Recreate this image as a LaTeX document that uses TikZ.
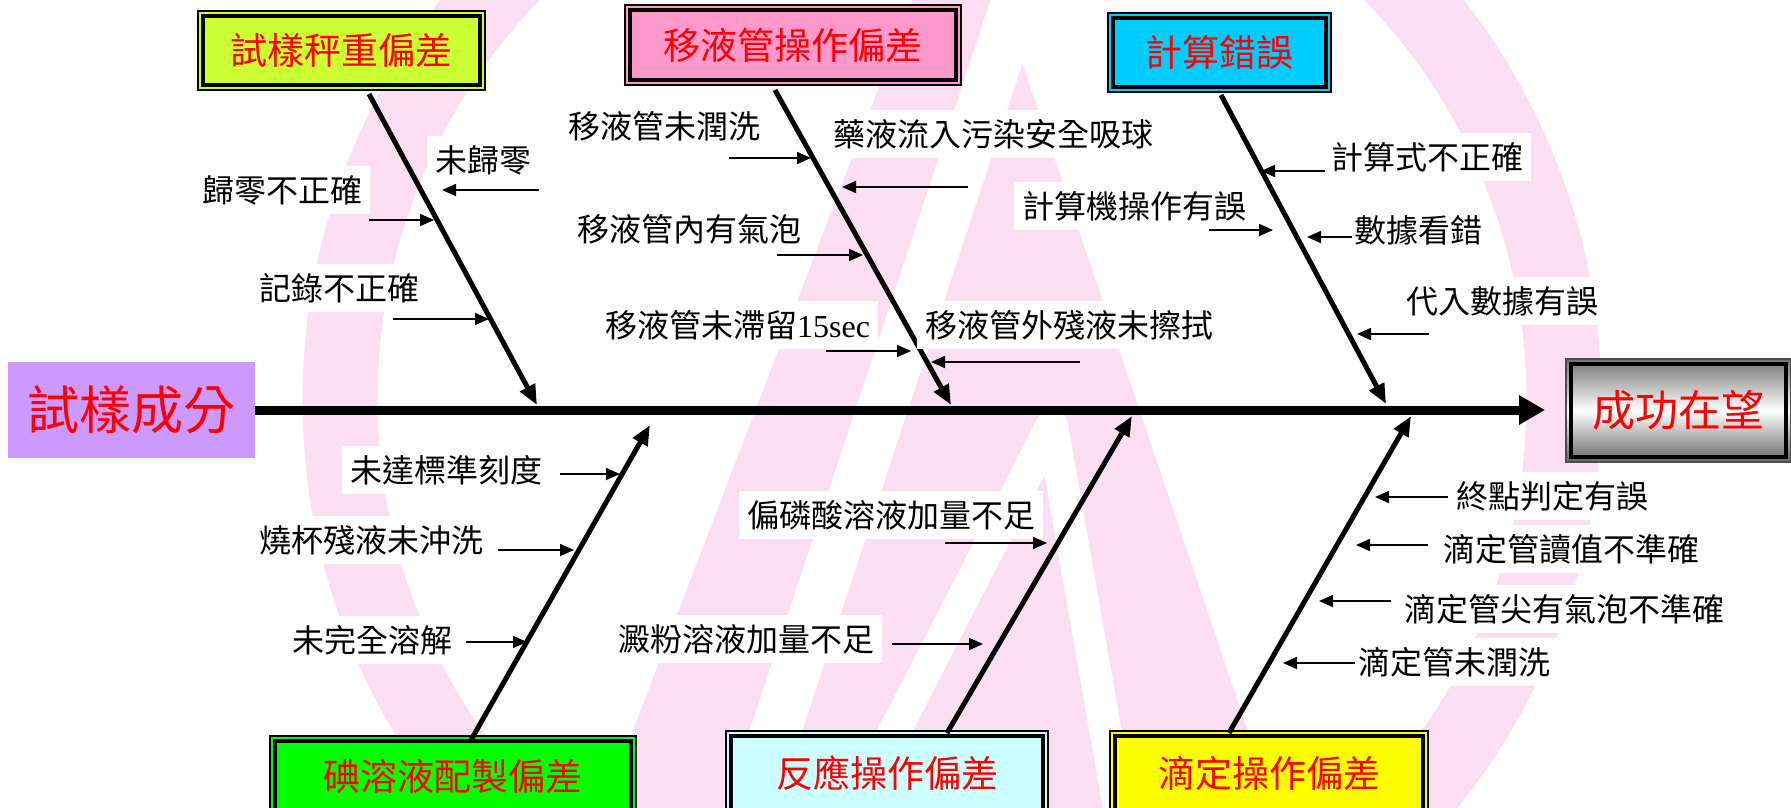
\documentclass[tikz,border=0pt]{standalone}
\usepackage{fontspec}
\setmainfont{Liberation Serif}
\newfontfamily\cjk{Noto Sans CJK TC}
\usetikzlibrary{arrows.meta}
\definecolor{wmpink}{HTML}{FCDEF2}
\definecolor{cyg}{HTML}{CCFF33}
\definecolor{cpk}{HTML}{FF99CC}
\definecolor{ccy}{HTML}{00CCFF}
\definecolor{cgr}{HTML}{00FF00}
\definecolor{clc}{HTML}{CCFFFF}
\definecolor{cye}{HTML}{FFFF00}
\definecolor{cpu}{HTML}{CC99FF}
\tikzset{
  catbox/.style={draw=black, line width=2pt, inner sep=0pt, text=red,
    font=\cjk\fontsize{37}{37}\selectfont},
  lbl/.style={anchor=west, fill=white, inner xsep=8pt, inner ysep=9pt, text=black,
    font=\cjk\fontsize{32}{32}\selectfont},
  bone/.style={line width=5pt, -{Triangle[length=20pt,width=16pt]}},
  spine/.style={line width=9pt, -{Triangle[length=26pt,width=28pt]}},
  sm/.style={line width=1.8pt, -{Triangle[length=14pt,width=12pt]}},
  inner/.style={line width=3.5pt},
}
\newcommand{\innerframe}[1]{\draw[inner] ([shift={(6,6)}]#1.north west) rectangle ([shift={(-6,-6)}]#1.south east);}
\begin{document}
\begin{tikzpicture}[x=1pt,y=-1pt]
\useasboundingbox (0,0) rectangle (1791,808);
\clip (0,0) rectangle (1791,808);
% watermark
\draw[wmpink, line width=75pt] (952,400) circle[radius=612pt];
\fill[wmpink] (943,-80) -- (974,-80) -- (1305,900) -- (568,900) -- cycle;
\draw[white, line width=50pt] (1050,-100) -- (720,900);
\draw[white, line width=32pt, line join=round] (808,900) -- (1052,425) -- (1135,900);

% category boxes
\node[catbox, fill=cyg, minimum width=287pt, minimum height=79pt] (c1) at (341.5,50.5) {試樣秤重偏差};
\innerframe{c1}
\node[catbox, fill=cpk, minimum width=336pt, minimum height=80pt] (c2) at (793,45) {移液管操作偏差};
\innerframe{c2}
\node[catbox, fill=ccy, minimum width=223pt, minimum height=79pt] (c3) at (1219.5,52.5) {計算錯誤};
\innerframe{c3}
\node[catbox, fill=cgr, minimum width=366pt, minimum height=80pt] (c4) at (453,776) {碘溶液配製偏差};
\innerframe{c4}
\node[catbox, fill=clc, minimum width=322pt, minimum height=84pt] (c5) at (887,773) {反應操作偏差};
\innerframe{c5}
\node[catbox, fill=cye, minimum width=318pt, minimum height=84pt] (c6) at (1269,773) {滴定操作偏差};
\innerframe{c6}

% head and tail
\node[fill=cpu, minimum width=247pt, minimum height=96pt, inner sep=0pt, text=red,
  font=\cjk\fontsize{52}{52}\selectfont] (src) at (131.5,410) {試樣成分};
\node[draw=black!70, line width=2pt, top color=black!55, bottom color=black!60, middle color=white,
  minimum width=225pt, minimum height=103pt, inner sep=0pt, text=red,
  font=\cjk\fontsize{43}{43}\selectfont] (goal) at (1678.5,410.5) {成功在望};
\innerframe{goal}

% spine
\coordinate (sp) at (1545,410);
\draw[spine] (src.east |- 0,410) -- (sp);

% bones
\coordinate (b1s) at (369,94);   \coordinate (b1e) at (537,405);
\coordinate (b2s) at (775,90);   \coordinate (b2e) at (951,405);
\coordinate (b3s) at (1221,95);  \coordinate (b3e) at (1386,404);
\coordinate (b4s) at (471,740);  \coordinate (b4e) at (650,425);
\coordinate (b5s) at (947,733);  \coordinate (b5e) at (1132,416);
\coordinate (b6s) at (1229,733); \coordinate (b6e) at (1411,416);
\draw[bone] (b1s) -- (b1e);
\draw[bone] (b2s) -- (b2e);
\draw[bone] (b3s) -- (b3e);
\draw[bone] (b4s) -- (b4e);
\draw[bone] (b5s) -- (b5e);
\draw[bone] (b6s) -- (b6e);

% labels
\node[lbl] (l1) at (194,190) {歸零不正確};
\node[lbl] (l2) at (427,160) {未歸零};
\node[lbl] (l3) at (251,288) {記錄不正確};
\node[lbl] (l4) at (560,126) {移液管未潤洗};
\node[lbl] (l5) at (825,134) {藥液流入污染安全吸球};
\node[lbl] (l6) at (569,229) {移液管內有氣泡};
\node[lbl] (l7) at (597,325) {移液管未滯留{\rmfamily 15sec}};
\node[lbl] (l8) at (917,325) {移液管外殘液未擦拭};
\node[lbl] (l9) at (1323,157) {計算式不正確};
\node[lbl] (l10) at (1014,206) {計算機操作有誤};
\node[lbl] (l11) at (1346,230) {數據看錯};
\node[lbl] (l12) at (1398,301) {代入數據有誤};
\node[lbl] (l13) at (342,470) {未達標準刻度};
\node[lbl] (l14) at (251,540) {燒杯殘液未沖洗};
\node[lbl] (l15) at (284,640) {未完全溶解};
\node[lbl] (l16) at (739,515) {偏磷酸溶液加量不足};
\node[lbl] (l17) at (610,639) {澱粉溶液加量不足};
\node[lbl] (l18) at (1448,496) {終點判定有誤};
\node[lbl] (l19) at (1435,549) {滴定管讀值不準確};
\node[lbl] (l20) at (1396,609) {滴定管尖有氣泡不準確};
\node[lbl] (l21) at (1350,662) {滴定管未潤洗};

% small arrows
\coordinate (a1t) at (369,220);  \coordinate (a1h) at (434,220);
\coordinate (a2t) at (539,190);  \coordinate (a2h) at (442,190);
\coordinate (a3t) at (393,319);  \coordinate (a3h) at (489,319);
\coordinate (a4t) at (729,158);  \coordinate (a4h) at (811,158);
\coordinate (a5t) at (968,187);  \coordinate (a5h) at (842,187);
\coordinate (a6t) at (777,255);  \coordinate (a6h) at (863,255);
\coordinate (a7t) at (826,351);  \coordinate (a7h) at (911,351);
\coordinate (a8t) at (1080,362); \coordinate (a8h) at (931,362);
\coordinate (a9t) at (1325,171); \coordinate (a9h) at (1261,171);
\coordinate (a10t) at (1209,230); \coordinate (a10h) at (1273,230);
\coordinate (a11t) at (1352,237); \coordinate (a11h) at (1307,237);
\coordinate (a12t) at (1429,334); \coordinate (a12h) at (1357,334);
\coordinate (a13t) at (560,474); \coordinate (a13h) at (620,474);
\coordinate (a14t) at (498,550); \coordinate (a14h) at (574,550);
\coordinate (a15t) at (466,642); \coordinate (a15h) at (527,642);
\coordinate (a16t) at (945,543); \coordinate (a16h) at (1047,543);
\coordinate (a17t) at (892,644); \coordinate (a17h) at (983,644);
\coordinate (a18t) at (1448,497); \coordinate (a18h) at (1375,497);
\coordinate (a19t) at (1428,545); \coordinate (a19h) at (1356,545);
\coordinate (a20t) at (1391,601); \coordinate (a20h) at (1319,601);
\coordinate (a21t) at (1355,663); \coordinate (a21h) at (1283,663);
\foreach \i in {1,...,21} { \draw[sm] (a\i t) -- (a\i h); }
\end{tikzpicture}
\end{document}
